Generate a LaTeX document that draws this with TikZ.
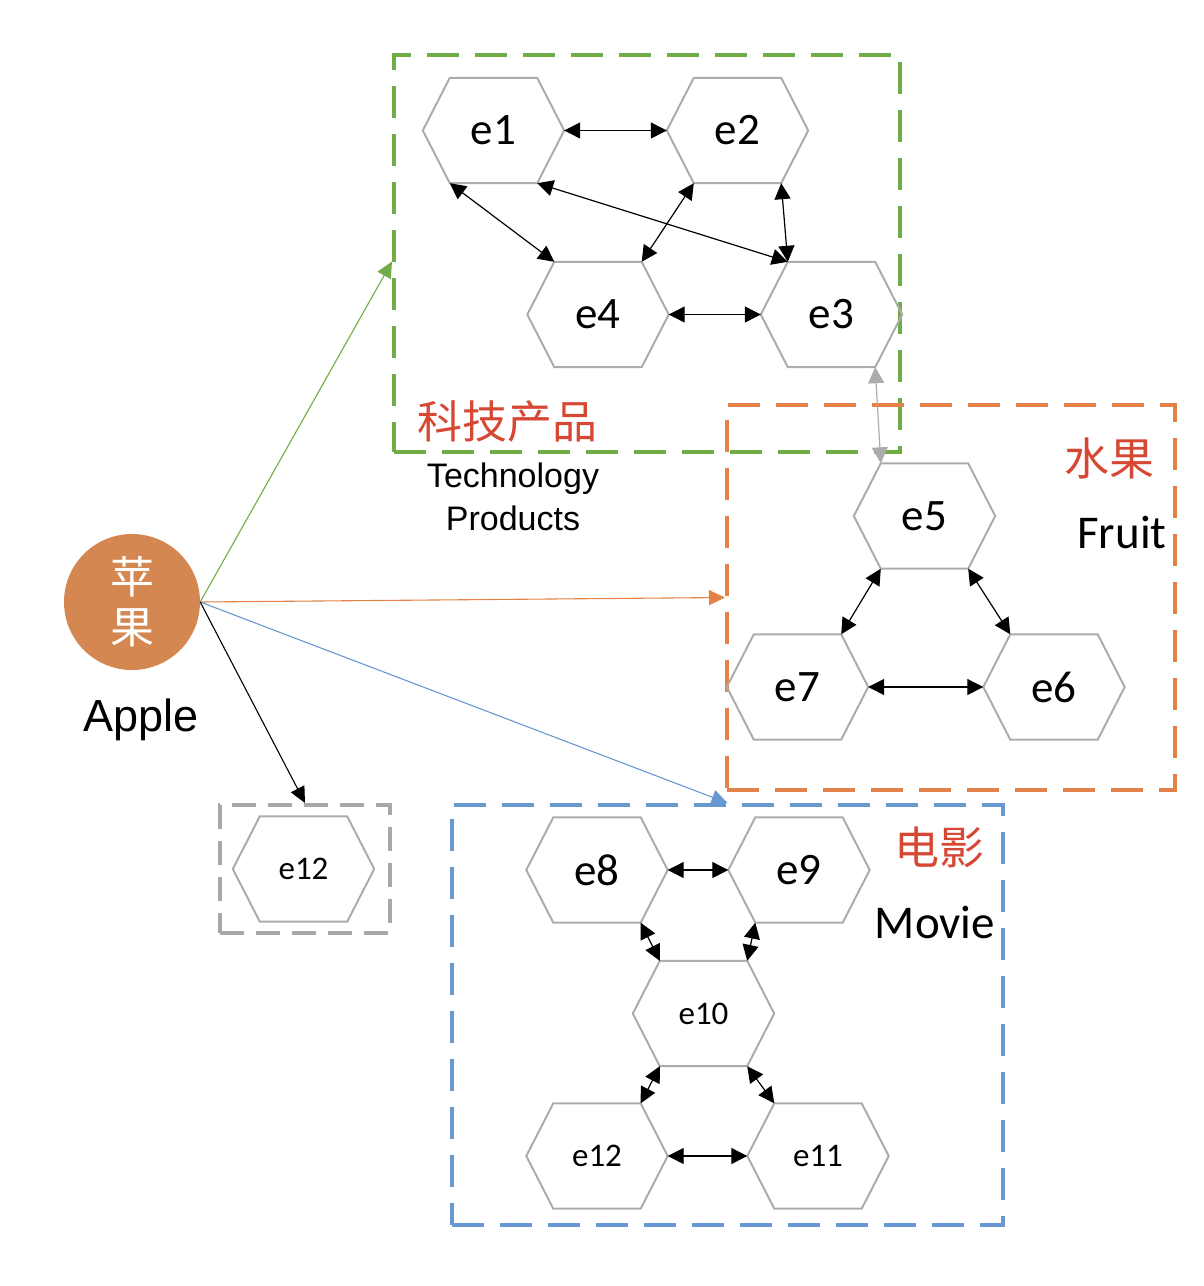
\documentclass[tikz,border=0pt]{standalone}
\usepackage{fontspec}
\setmainfont{Liberation Sans}
\newfontfamily\hexfont{Carlito}
\newfontfamily\cjk{Noto Sans CJK SC}
\usetikzlibrary{arrows.meta}

\definecolor{techgreen}{RGB}{112,173,71}
\definecolor{fruitorange}{RGB}{226,130,70}
\definecolor{movieblue}{RGB}{104,152,210}
\definecolor{boxgray}{RGB}{168,168,168}
\definecolor{hexgray}{RGB}{172,172,172}
\definecolor{applebrown}{RGB}{212,135,80}
\definecolor{cnred}{RGB}{214,72,52}

\begin{document}
\begin{tikzpicture}[x=1pt,y=-1pt,
    hexbox/.style={rectangle, minimum width=141pt, minimum height=105pt, inner sep=0pt},
    hexline/.style={draw=hexgray, line width=2pt, line join=miter},
    groupbox/.style={rectangle, line width=4pt, dash pattern=on 32pt off 16pt, inner sep=0pt},
    biarrow/.style={{Triangle[length=16pt,width=16pt]}-{Triangle[length=16pt,width=16pt]}, line width=1.2pt},
    linkarrow/.style={-{Triangle[length=16pt,width=15pt]}, line width=1.1pt},
    cnlabel/.style={text=cnred, font=\cjk\fontsize{45}{45}\selectfont},
    enlabel/.style={font=\hexfont\fontsize{47}{47}\selectfont}]
    \useasboundingbox (0,0) rectangle (1204,1286);

    % Abschraegung der Sechsecke
    \def\cut{27pt}

    % Sechseck: Name, x, y, Schriftgroesse, Text
    \def\hex#1#2#3#4#5{
        \node[hexbox, font=\hexfont\fontsize{#4}{#4}\selectfont] (#1) at (#2,#3) {#5};
        \coordinate (#1 tl) at ([xshift=\cut]#1.north west);
        \coordinate (#1 tr) at ([xshift=-\cut]#1.north east);
        \coordinate (#1 bl) at ([xshift=\cut]#1.south west);
        \coordinate (#1 br) at ([xshift=-\cut]#1.south east);
        \draw[hexline] (#1.west) -- (#1 tl) -- (#1 tr) -- (#1.east) -- (#1 br) -- (#1 bl) -- cycle;
    }

    % Gruppenrahmen
    \node[groupbox, draw=techgreen, minimum width=506pt, minimum height=397pt] (techbox) at (647,253.5) {};
    \node[groupbox, draw=fruitorange, minimum width=448pt, minimum height=385pt] (fruitbox) at (951,597.5) {};
    \node[groupbox, draw=movieblue, minimum width=551pt, minimum height=420pt] (moviebox) at (727.5,1015) {};
    \node[groupbox, draw=boxgray, dash pattern=on 24pt off 12pt, minimum width=170pt, minimum height=128pt] (otherbox) at (305,869) {};

    % Sechsecke
    \foreach \n/\x/\y/\f/\t in {e1/493.5/130.5/45/e1, e2/737.5/130.5/45/e2,
            e4/598/314.5/45/e4, e3/831.5/314.5/45/e3,
            e5/924.5/516/45/e5, e7/797.5/687/45/e7, e6/1054/687/45/e6,
            e8/597/870/45/e8, e9/799/870/45/e9, e10/703.5/1013.5/33/e10,
            e12/597/1156/33/e12, e11/818/1156/33/e11, e12b/303.5/869/33/e12} {
        \hex{\n}{\x}{\y}{\f}{\t}
    }

    % Beziehungen
    \foreach \a/\b in {e1.east/e2.west, e1 bl/e4 tl, e1 br/e3 tl, e2 bl/e4 tr,
            e2 br/e3 tl, e4.east/e3.west, e5 bl/e7 tr, e5 br/e6 tl, e7.east/e6.west,
            e8.east/e9.west, e8 br/e10 tl, e9 bl/e10 tr, e10 bl/e12 tr,
            e10 br/e11 tl, e12.east/e11.west} {
        \draw[biarrow] (\a) -- (\b);
    }
    \draw[biarrow, draw=hexgray] (e3 br) -- (e5 tl);

    % Apple
    \node[circle, fill=applebrown, minimum size=136pt, inner sep=0pt, text=white, align=center,
        font=\cjk\fontsize{44}{50}\selectfont] (apple) at (132,602) {苹\\果};
    \node[font=\fontsize{45}{45}\selectfont] (applelbl) at (141,720) {Apple};

    \draw[linkarrow, draw=techgreen] (apple.east) -- ([yshift=-8pt]techbox.west);
    \draw[linkarrow, draw=fruitorange] (apple.east) -- (fruitbox.west);
    \draw[linkarrow, draw=movieblue] (apple.east) -- (moviebox.north);
    \draw[linkarrow] (apple.east) -- (otherbox.north);

    % Beschriftungen
    \node[cnlabel] (techcn) at (507,422) {科技产品};
    \node[align=center, font=\fontsize{34}{43}\selectfont] (techlbl) at (513,497) {Technology\\Products};
    \node[cnlabel] (fruitcn) at (1109,458) {水果};
    \node[enlabel] (fruitlbl) at (1122,532) {Fruit};
    \node[cnlabel] (moviecn) at (939,847) {电影};
    \node[enlabel] (movielbl) at (935,922) {Movie};
\end{tikzpicture}
\end{document}
